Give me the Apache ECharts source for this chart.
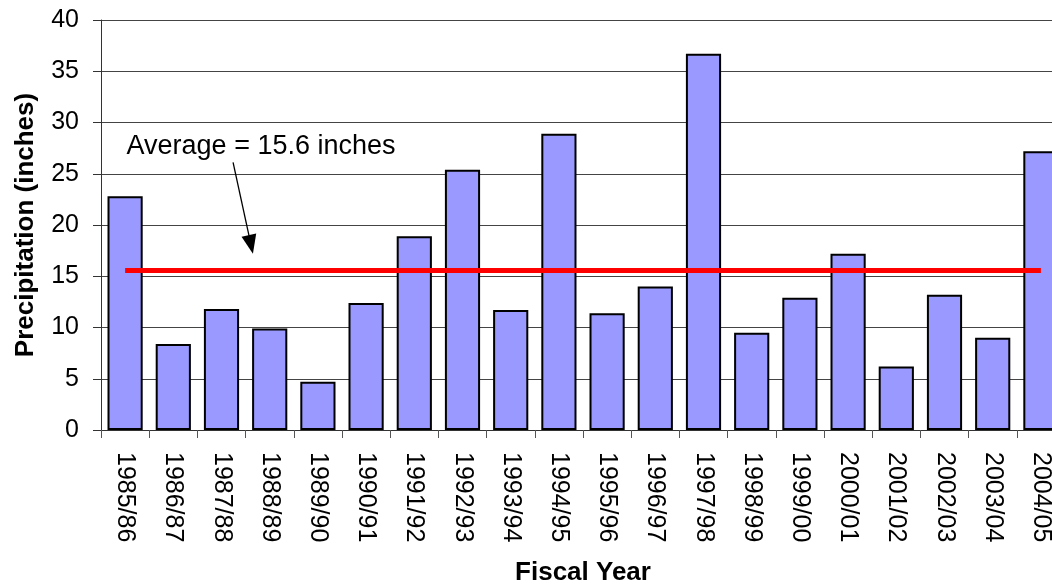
<!DOCTYPE html>
<html><head><meta charset="utf-8">
<script src="https://cdn.jsdelivr.net/npm/echarts@6/dist/echarts.min.js"></script>
<style>html,body{margin:0;padding:0;background:#fff}#c{width:1052px;height:586px}</style>
</head><body><div id="c"></div>
<script>
const categories = ['1985/86','1986/87','1987/88','1988/89','1989/90','1990/91','1991/92','1992/93','1993/94','1994/95','1995/96','1996/97','1997/98','1998/99','1999/00','2000/01','2001/02','2002/03','2003/04','2004/05'];
const precipitation = [22.8,8.4,11.8,9.9,4.7,12.4,18.9,25.4,11.7,28.9,11.4,14.0,36.7,9.5,12.9,17.2,6.2,13.2,9.0,27.2];
const average = 15.6;
const yTicks = [0,5,10,15,20,25,30,35,40];
const annotationText = 'Average = 15.6 inches';
const FONT = 'Liberation Sans, Arial, sans-serif';

const chart = echarts.init(document.getElementById('c'), null, {renderer:'canvas'});
chart.setOption({
  animation:false,
  backgroundColor:'#fff',
  grid:{left:101, right:-13, top:20, bottom:156, containLabel:false, outerBoundsMode:'none'},
  xAxis:[{
    type:'category', data:categories,
    axisLine:{onZero:false, lineStyle:{color:'#333',width:1}},
    axisTick:{show:true, length:8, lineStyle:{color:'#555'}},
    axisLabel:{rotate:-90, fontSize:25, color:'#000', fontFamily:FONT, margin:22},
    name:'Fiscal Year', nameLocation:'middle', nameGap:130,
    nameTextStyle:{fontSize:26, fontWeight:'bold', color:'#000', fontFamily:FONT}
  },{
    type:'value', min:-0.5, max:19.5, show:false
  }],
  yAxis:{
    type:'value', min:yTicks[0], max:yTicks[yTicks.length-1], interval:5,
    axisLine:{show:true, onZero:false, lineStyle:{color:'#333',width:1}},
    axisTick:{show:true, length:8, lineStyle:{color:'#333'}},
    axisLabel:{fontSize:25, color:'#000', fontFamily:FONT, margin:22},
    splitLine:{lineStyle:{color:'#444',width:1}},
    name:'Precipitation (inches)', nameLocation:'middle', nameGap:62, nameRotate:90,
    nameTextStyle:{fontSize:26, fontWeight:'bold', color:'#000', fontFamily:FONT}
  },
  series:[{
    type:'bar', data:precipitation, barCategoryGap:'27%',
    itemStyle:{color:'#9999FF', borderColor:'#000', borderWidth:2},
    markLine:{
      silent:true, symbol:['none','none'],
      lineStyle:{color:'#FF0000', width:5, type:'solid'},
      label:{show:false},
      data:[[{coord:[categories[0], average]},{coord:[categories[categories.length-1], average]}]]
    },
    z:2
  },{
    type:'line', xAxisIndex:1, data:[], showSymbol:false,
    markLine:{
      silent:true, symbol:['none','triangle'], symbolSize:[15,19],
      lineStyle:{color:'#000', width:1.3, type:'solid'},
      label:{show:false},
      data:[[{coord:[2.24, 26.1]},{coord:[2.61, 18.1]}]]
    },
    markPoint:{
      silent:true, symbol:'rect', symbolSize:1, itemStyle:{color:'rgba(0,0,0,0)'},
      label:{show:true, position:'inside', formatter:annotationText, fontSize:27, color:'#000', fontFamily:FONT},
      data:[{coord:[2.82, 27.7]}]
    },
    z:5
  }]
});
</script></body></html>
